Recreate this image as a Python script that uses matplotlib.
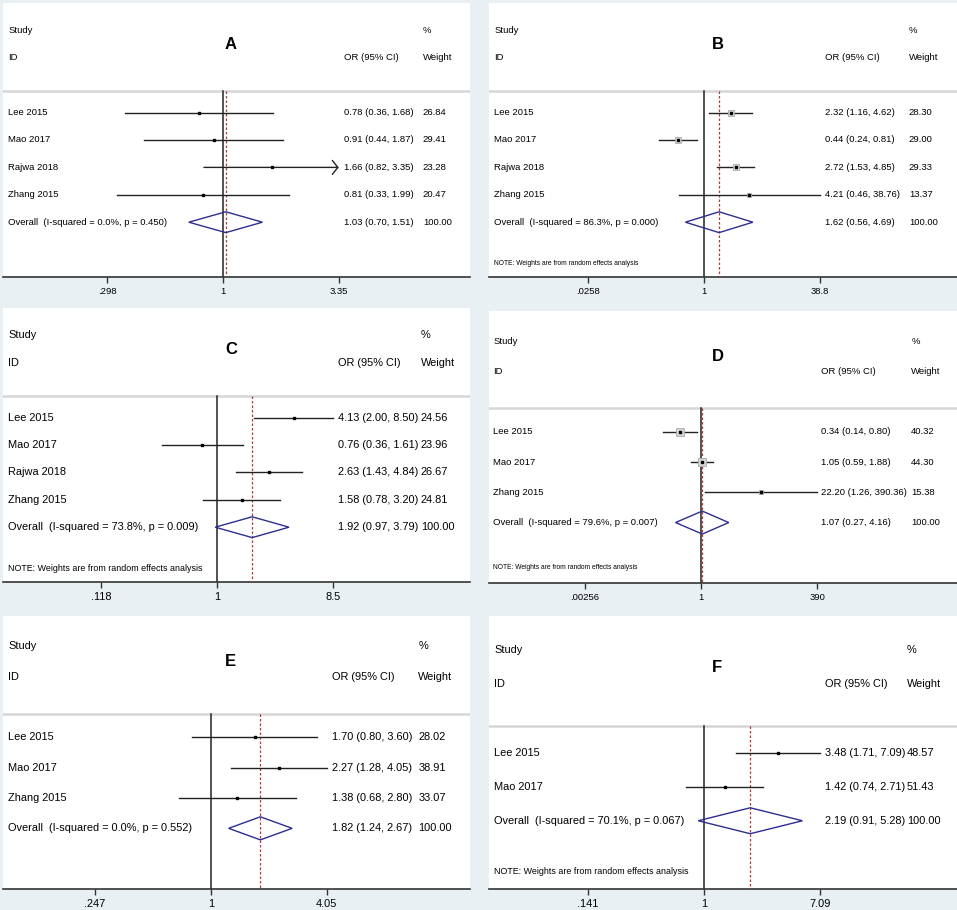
import numpy as np
import matplotlib
matplotlib.use("Agg")
import matplotlib.pyplot as plt
from matplotlib.patches import Polygon

plt.rcParams["font.family"] = ["Liberation Sans", "DejaVu Sans"]

# Panel A
A_STUDIES = ["Lee 2015", "Mao 2017", "Rajwa 2018", "Zhang 2015"]
A_OR = [0.78, 0.91, 1.66, 0.81]
A_LOW = [0.36, 0.44, 0.82, 0.33]
A_HIGH = [1.68, 1.87, 3.35, 1.99]
A_WEIGHT = [26.84, 29.41, 23.28, 20.47]
A_OVERALL = [1.03, 0.70, 1.51]
A_I2, A_P = 0.0, 0.450
A_TICKS = [0.298, 1, 3.35]
A_TICKLABELS = [".298", "1", "3.35"]

# Panel B
B_STUDIES = ["Lee 2015", "Mao 2017", "Rajwa 2018", "Zhang 2015"]
B_OR = [2.32, 0.44, 2.72, 4.21]
B_LOW = [1.16, 0.24, 1.53, 0.46]
B_HIGH = [4.62, 0.81, 4.85, 38.76]
B_WEIGHT = [28.30, 29.00, 29.33, 13.37]
B_OVERALL = [1.62, 0.56, 4.69]
B_I2, B_P = 86.3, 0.000
B_TICKS = [0.0258, 1, 38.8]
B_TICKLABELS = [".0258", "1", "38.8"]

# Panel C
C_STUDIES = ["Lee 2015", "Mao 2017", "Rajwa 2018", "Zhang 2015"]
C_OR = [4.13, 0.76, 2.63, 1.58]
C_LOW = [2.00, 0.36, 1.43, 0.78]
C_HIGH = [8.50, 1.61, 4.84, 3.20]
C_WEIGHT = [24.56, 23.96, 26.67, 24.81]
C_OVERALL = [1.92, 0.97, 3.79]
C_I2, C_P = 73.8, 0.009
C_TICKS = [0.118, 1, 8.5]
C_TICKLABELS = [".118", "1", "8.5"]

# Panel D
D_STUDIES = ["Lee 2015", "Mao 2017", "Zhang 2015"]
D_OR = [0.34, 1.05, 22.20]
D_LOW = [0.14, 0.59, 1.26]
D_HIGH = [0.80, 1.88, 390.36]
D_WEIGHT = [40.32, 44.30, 15.38]
D_OVERALL = [1.07, 0.27, 4.16]
D_I2, D_P = 79.6, 0.007
D_TICKS = [0.00256, 1, 390]
D_TICKLABELS = [".00256", "1", "390"]

# Panel E
E_STUDIES = ["Lee 2015", "Mao 2017", "Zhang 2015"]
E_OR = [1.70, 2.27, 1.38]
E_LOW = [0.80, 1.28, 0.68]
E_HIGH = [3.60, 4.05, 2.80]
E_WEIGHT = [28.02, 38.91, 33.07]
E_OVERALL = [1.82, 1.24, 2.67]
E_I2, E_P = 0.0, 0.552
E_TICKS = [0.247, 1, 4.05]
E_TICKLABELS = [".247", "1", "4.05"]

# Panel F
F_STUDIES = ["Lee 2015", "Mao 2017"]
F_OR = [3.48, 1.42]
F_LOW = [1.71, 0.74]
F_HIGH = [7.09, 2.71]
F_WEIGHT = [48.57, 51.43]
F_OVERALL = [2.19, 0.91, 5.28]
F_I2, F_P = 70.1, 0.067
F_TICKS = [0.141, 1, 7.09]
F_TICKLABELS = [".141", "1", "7.09"]

NOTE = "NOTE: Weights are from random effects analysis"

W, H = 957, 910
BG = "#e9f0f3"
DIAMOND = "#2e2e8f"
REFLINE = "#b03a3a"


def draw_panel(fig, box, letter, studies, ors, lows, highs, weights, overall,
               i2, p, ticks, ticklabels, lay):
    left, top, right, bottom = box
    ax = fig.add_axes([left / W, 1 - bottom / H, (right - left) / W, (bottom - top) / H])
    ax.set_facecolor("white")
    n = len(studies)
    fs = lay["fs"]

    # x scale: put 1 at lay["one"], outer ticks 0.248 of width away
    half = 0.248
    L = np.log(ticks[-1])
    ax.set_xscale("log")
    ax.set_xlim(np.exp(-lay["one"] / half * L), np.exp((1 - lay["one"]) / half * L))
    ax.set_ylim(n + 3, -3)

    for s in ["top", "left", "right"]:
        ax.spines[s].set_visible(False)
    ax.spines["bottom"].set_color("#333333")
    ax.spines["bottom"].set_linewidth(1.2)
    ax.set_yticks([])
    ax.set_xticks(ticks)
    ax.set_xticklabels(ticklabels)
    ax.minorticks_off()
    ax.tick_params(axis="x", direction="out", length=4, width=1, labelsize=fs, pad=3,
                   color="#333333")

    tr = ax.get_yaxis_transform()
    sep = 0.22
    ax.axhline(sep, color="#d6d6d6", lw=1.8)

    # headers
    ax.text(lay["sx"], -2, "Study", transform=tr, fontsize=fs, va="center")
    ax.text(lay["sx"], -1, "ID", transform=tr, fontsize=fs, va="center")
    ax.text(lay["ox"], -1, "OR (95% CI)", transform=tr, fontsize=fs, va="center")
    ax.text(lay["wx"], -2, "%", transform=tr, fontsize=fs, va="center")
    ax.text(lay["wx"], -1, "Weight", transform=tr, fontsize=fs, va="center")
    ax.text(0.488, -1.5, letter, transform=tr, fontsize=12, fontweight="bold",
            ha="center", va="center")

    # reference lines
    ax.plot([1, 1], [sep, n + 3], color="#222222", lw=1.1, zorder=2)
    ax.plot([overall[0], overall[0]], [sep, n + 3], color=REFLINE, lw=0.9,
            dashes=(2, 1.6), zorder=3)

    for i in range(n):
        r = i + 1
        if i in lay.get("arrows", []):
            ax.annotate("", xy=(highs[i], r), xytext=(lows[i], r),
                        arrowprops=dict(arrowstyle="->,head_length=0.4,head_width=0.5",
                                        lw=1.0, color="#222222", shrinkA=0, shrinkB=0,
                                        mutation_scale=10))
        else:
            ax.plot([lows[i], highs[i]], [r, r], color="#222222", lw=1.0, zorder=4)
        if lay["box"] > 0:
            ax.plot(ors[i], r, marker="s", markersize=lay["box"] * np.sqrt(weights[i]),
                    mfc="#d4d4d4", mec="#ababab", mew=0.6, zorder=5)
        ax.plot(ors[i], r, marker="s", markersize=1.8, color="black", zorder=6)
        ax.text(lay["sx"], r, studies[i], transform=tr, fontsize=fs, va="center")
        ax.text(lay["ox"], r, "%.2f (%.2f, %.2f)" % (ors[i], lows[i], highs[i]),
                transform=tr, fontsize=fs, va="center")
        ax.text(lay["wx"], r, "%.2f" % weights[i], transform=tr, fontsize=fs, va="center")

    # overall diamond
    r = n + 1
    est, lo, hi = overall
    ax.add_patch(Polygon([(lo, r), (est, r - 0.38), (hi, r), (est, r + 0.38)],
                         closed=True, fill=False, edgecolor=DIAMOND, lw=1.0, zorder=6))
    ax.text(lay["sx"], r, "Overall  (I-squared = %.1f%%, p = %.3f)" % (i2, p),
            transform=tr, fontsize=fs, va="center")
    ax.text(lay["ox"], r, "%.2f (%.2f, %.2f)" % (est, lo, hi),
            transform=tr, fontsize=fs, va="center")
    ax.text(lay["wx"], r, "%.2f" % 100.0, transform=tr, fontsize=fs, va="center")

    if lay["note"]:
        ax.text(lay["sx"], n + 2.5, NOTE, transform=tr, fontsize=lay["nfs"], va="center")


def main():
    fig = plt.figure(figsize=(W / 100, H / 100), dpi=100)
    fig.patch.set_facecolor(BG)

    small = dict(fs=6.8, nfs=4.8)
    large = dict(fs=7.9, nfs=6.4)

    draw_panel(fig, (3, 3, 470, 277), "A", A_STUDIES, A_OR, A_LOW, A_HIGH, A_WEIGHT,
               A_OVERALL, A_I2, A_P, A_TICKS, A_TICKLABELS,
               dict(small, one=0.471, sx=0.011, ox=0.730, wx=0.899, box=0, note=False,
                    arrows=[2]))
    draw_panel(fig, (489, 3, 957, 277), "B", B_STUDIES, B_OR, B_LOW, B_HIGH, B_WEIGHT,
               B_OVERALL, B_I2, B_P, B_TICKS, B_TICKLABELS,
               dict(small, one=0.459, sx=0.011, ox=0.718, wx=0.897, box=0.9, note=True))
    draw_panel(fig, (3, 308, 470, 582), "C", C_STUDIES, C_OR, C_LOW, C_HIGH, C_WEIGHT,
               C_OVERALL, C_I2, C_P, C_TICKS, C_TICKLABELS,
               dict(large, one=0.458, sx=0.011, ox=0.717, wx=0.895, box=0, note=True))
    draw_panel(fig, (489, 311, 957, 583), "D", D_STUDIES, D_OR, D_LOW, D_HIGH, D_WEIGHT,
               D_OVERALL, D_I2, D_P, D_TICKS, D_TICKLABELS,
               dict(small, one=0.453, sx=0.009, ox=0.710, wx=0.902, box=0.85, note=True))
    draw_panel(fig, (3, 616, 470, 889), "E", E_STUDIES, E_OR, E_LOW, E_HIGH, E_WEIGHT,
               E_OVERALL, E_I2, E_P, E_TICKS, E_TICKLABELS,
               dict(large, one=0.445, sx=0.011, ox=0.704, wx=0.889, box=0, note=False))
    draw_panel(fig, (489, 616, 957, 889), "F", F_STUDIES, F_OR, F_LOW, F_HIGH, F_WEIGHT,
               F_OVERALL, F_I2, F_P, F_TICKS, F_TICKLABELS,
               dict(large, one=0.459, sx=0.011, ox=0.718, wx=0.893, box=0, note=True))

    fig.savefig("out.png", dpi=100, facecolor=fig.get_facecolor())


if __name__ == "__main__":
    main()
